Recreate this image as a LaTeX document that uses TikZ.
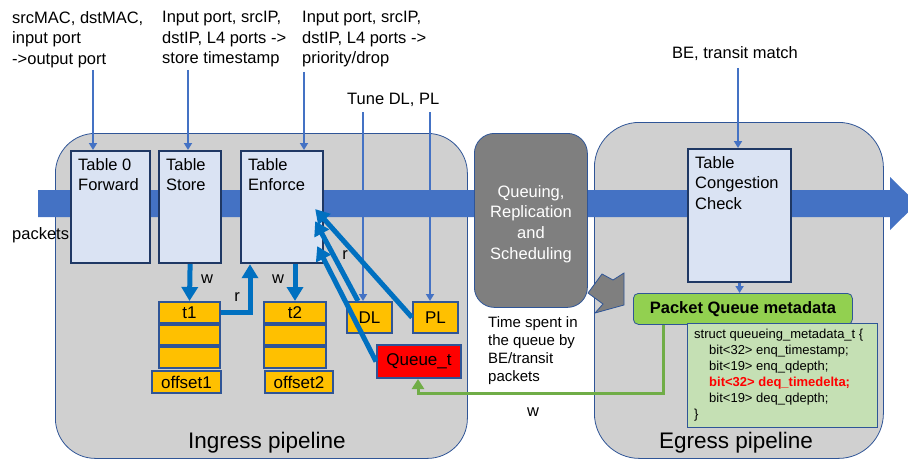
\documentclass[tikz,border=0pt]{standalone}
\usepackage{fontspec}
\setmainfont{Liberation Sans}
\usetikzlibrary{
    arrows.meta,
    calc,
    positioning
}
\definecolor{pipefill}{HTML}{D0D0D0}
\definecolor{edgeblue}{HTML}{2F5597}
\definecolor{bandblue}{HTML}{4472C4}
\definecolor{qgray}{HTML}{7F7F7F}
\definecolor{tblfill}{HTML}{DAE3F3}
\definecolor{tbledge}{HTML}{1F3864}
\definecolor{regfill}{HTML}{FFC000}
\definecolor{rwblue}{HTML}{0070C0}
\definecolor{metafill}{HTML}{92D050}
\definecolor{structfill}{HTML}{C5E0B4}
\definecolor{wgreen}{HTML}{70AD47}
\newcommand{\lblfont}{\fontsize{16.5}{20.6}\selectfont}
\newcommand{\regfont}{\fontsize{17}{20}\selectfont}
\newcommand{\notefont}{\fontsize{15}{18.2}\selectfont}
\newcommand{\codefont}{\fontsize{13}{16}\selectfont}
\newcommand{\pipefont}{\fontsize{22.5}{26}\selectfont}
\tikzset{pipe/.style={draw=edgeblue, fill=pipefill, line width=0.8pt, anchor=north west, inner sep=0pt}}
\tikzset{tbl/.style={draw=tbledge, fill=tblfill, line width=2.2pt, anchor=north west, inner sep=0pt}}
\tikzset{tbltext/.style={anchor=north west, align=left, inner sep=0pt, font=\lblfont}}
\tikzset{reg/.style={draw=edgeblue, fill=regfill, line width=2pt, inner sep=0pt, font=\regfont}}
\tikzset{toplabel/.style={anchor=north west, align=left, inner sep=0pt, font=\lblfont}}
\tikzset{thinarrow/.style={draw=bandblue, line width=2.5pt, -{Triangle[width=8pt,length=7pt]}}}
\tikzset{rwarrow/.style={draw=rwblue, line width=5pt, -{Triangle[width=16pt,length=14pt]}}}
\tikzset{rwlabel/.style={inner sep=0pt, font=\lblfont}}

\begin{document}
\begin{tikzpicture}[x=1pt, y=-1pt]
\useasboundingbox (0,0) rectangle (908,460);
% pipelines
\node[pipe, rounded corners=40pt, minimum width=412pt, minimum height=325pt] (ingress) at (55,133) {};
\node[pipe, rounded corners=45pt, minimum width=289pt, minimum height=336pt] (egress) at (594,122) {};
\node[font=\pipefont, anchor=base] (ingresslbl) at (267,448) {Ingress pipeline};
\node[font=\pipefont, anchor=base] (egresslbl) at (736,448) {Egress pipeline};
% packet band
\fill[bandblue] (38,190) -- (890,190) -- (890,177) -- (917,203.5) -- (890,230) -- (890,217) -- (38,217) -- cycle;
\node[font=\lblfont, anchor=base west, inner sep=0pt] (pkts) at (12,239) {packets};
% queuing
\node[pipe, fill=qgray, rounded corners=20pt, minimum width=113pt, minimum height=174pt] (qrs) at (474,133) {};
\node[font=\lblfont, text=white, align=center, inner sep=0pt] (qrslbl) at (531,224) {Queuing,\\Replication\\and\\Scheduling};
\draw[edgeblue, fill=qgray, line width=0.8pt] (588,293) -- (602,274) -- (613,280) -- (624,273) -- (624,305) -- (595,313) -- (603,304) -- cycle;
% tables
\node[tbl, minimum width=79pt, minimum height=112pt] (fwd) at (70,150) {};
\node[tbltext] at ([xshift=8pt, yshift=-8pt]fwd.north west) {Table 0\\Forward};
\node[tbl, minimum width=62pt, minimum height=112pt] (store) at (158,150) {};
\node[tbltext] at ([xshift=8pt, yshift=-8pt]store.north west) {Table\\Store};
\node[tbl, minimum width=82pt, minimum height=112pt] (enforce) at (240,150) {};
\node[tbltext] at ([xshift=8pt, yshift=-8pt]enforce.north west) {Table\\Enforce};
\node[tbl, minimum width=103pt, minimum height=133pt] (cong) at (687,148) {};
\node[tbltext] at ([xshift=8pt, yshift=-8pt]cong.north west) {Table\\Congestion\\Check};
% top labels
\node[toplabel] (lblfwd) at (12,11) {srcMAC, dstMAC,\\input port\\->output port};
\node[toplabel] (lblstore) at (162,11) {Input port, srcIP,\\dstIP, L4 ports ->\\store timestamp};
\node[toplabel] (lblenforce) at (302,11) {Input port, srcIP,\\dstIP, L4 ports ->\\priority/drop};
\node[toplabel] (lbltune) at (347,93) {Tune DL, PL};
\node[toplabel] (lblbe) at (672,46) {BE, transit match};
\coordinate (srcfwd) at (93,70);
\coordinate (srcstore) at (188,70);
\coordinate (srcenforce) at (304,72);
\coordinate (srcdl) at (363,112);
\coordinate (srcpl) at (430,112);
\coordinate (srcbe) at (738,68);
% registers
\node[reg, minimum width=61pt, minimum height=20.7pt, anchor=north west] (t1a) at (158,301) {t1};
\node[reg, minimum width=61pt, minimum height=20.7pt, below=0pt of t1a] (t1b) {};
\node[reg, minimum width=61pt, minimum height=20.7pt, below=0pt of t1b] (t1c) {};
\node[reg, minimum width=69pt, minimum height=22pt, anchor=north west] (off1) at (151,370) {offset1};
\node[reg, minimum width=62pt, minimum height=20.7pt, anchor=north west] (t2a) at (263,301) {t2};
\node[reg, minimum width=62pt, minimum height=20.7pt, below=0pt of t2a] (t2b) {};
\node[reg, minimum width=62pt, minimum height=20.7pt, below=0pt of t2b] (t2c) {};
\node[reg, minimum width=68pt, minimum height=22pt, anchor=north west] (off2) at (264,370) {offset2};
\node[reg, minimum width=45pt, minimum height=31pt, anchor=north west] (dl) at (346,301) {DL};
\node[reg, minimum width=45pt, minimum height=31pt, anchor=north west] (pl) at (412,301) {PL};
\node[reg, fill=red, minimum width=84pt, minimum height=33pt, anchor=north west] (queue) at (376,344) {Queue\_t};
% thin arrows
\draw[thinarrow] (srcfwd) -- (srcfwd |- fwd.north);
\draw[thinarrow] (srcstore) -- (srcstore |- store.north);
\draw[thinarrow] (srcenforce) -- (srcenforce |- enforce.north);
\draw[thinarrow] (srcdl) -- (srcdl |- dl.north);
\draw[thinarrow] (srcpl) -- (srcpl |- pl.north);
\draw[thinarrow] (srcbe) -- (srcbe |- cong.north);
% read/write arrows
\draw[rwarrow] (store.south) -- (t1a.north);
\node[rwlabel] (w1) at (207,279) {w};
\draw[rwarrow] (t1a.east) -| ([xshift=10pt]enforce.south west);
\node[rwlabel] (r1) at (237,297) {r};
\draw[rwarrow] (t2a.north |- enforce.south) -- (t2a.north);
\node[rwlabel] (w2) at (278,279) {w};
\draw[rwarrow] (queue.west) -- ([xshift=-7pt, yshift=-39pt]enforce.east);
\draw[rwarrow] ([xshift=12pt]dl.north west) -- ([xshift=-9pt, yshift=-14pt]enforce.east);
\draw[rwarrow] (pl.west) -- ([xshift=-9pt, yshift=-2pt]enforce.east);
\node[rwlabel] (r2) at (345,255) {r};
% egress metadata
\node[draw=edgeblue, fill=metafill, rounded corners=5pt, line width=0.8pt, anchor=north west, minimum width=219pt, minimum height=31pt, inner sep=0pt, font=\lblfont\bfseries] (meta) at (633,293) {Packet Queue metadata};
\node[draw=edgeblue, fill=structfill, line width=0.8pt, anchor=north west, minimum width=190pt, minimum height=104pt] (struct) at (687,323) {};
\node[anchor=north west, align=left, inner sep=0pt, font=\codefont] (structtxt) at (694,329) {struct queueing\_metadata\_t \{\\
\hspace*{15pt}bit<32> enq\_timestamp;\\
\hspace*{15pt}bit<19> enq\_qdepth;\\
\hspace*{15pt}\textcolor{red}{\bfseries bit<32> deq\_timedelta;}\\
\hspace*{15pt}bit<19> deq\_qdepth;\\
\}};
\draw[thinarrow] (cong.south) -- (cong.south |- meta.north);
\node[anchor=north west, align=left, inner sep=0pt, font=\notefont] (spent) at (488,316) {Time spent in\\the queue by\\BE/transit\\packets};
\coordinate (wturn) at (418,393);
\draw[draw=wgreen, line width=3pt, -{Triangle[width=12pt,length=10pt]}] ([xshift=30pt]meta.south west) |- (wturn) -- (wturn |- queue.south);
\node[rwlabel] (w3) at (533,412) {w};
\end{tikzpicture}
\end{document}
